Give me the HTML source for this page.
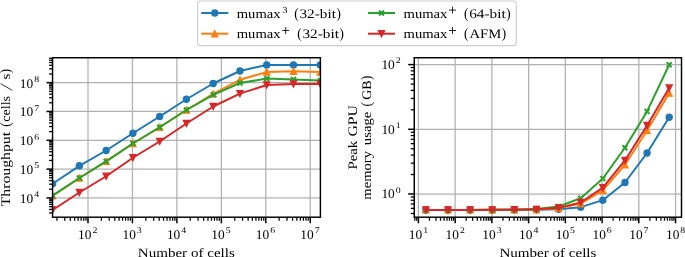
<!DOCTYPE html>
<html><head><meta charset="utf-8"><title>chart</title>
<style>
html,body{margin:0;padding:0;background:#fff;}
body{width:685px;height:257px;overflow:hidden;font-family:"Liberation Serif",serif;}
svg{display:block;will-change:transform;}
</style></head><body>
<svg width="685" height="257" viewBox="0 0 685 257">
<rect width="685" height="257" fill="#fff"/>
<defs>
<clipPath id="cl"><rect x="52.55" y="57.75" width="267.85" height="159.45"/></clipPath>
<clipPath id="cr"><rect x="414.25" y="57.75" width="267.25" height="159.45"/></clipPath>
</defs>
<line x1="88.00" y1="57.75" x2="88.00" y2="217.2" stroke="#b0b0b0" stroke-width="1.25"/><line x1="132.45" y1="57.75" x2="132.45" y2="217.2" stroke="#b0b0b0" stroke-width="1.25"/><line x1="176.90" y1="57.75" x2="176.90" y2="217.2" stroke="#b0b0b0" stroke-width="1.25"/><line x1="221.35" y1="57.75" x2="221.35" y2="217.2" stroke="#b0b0b0" stroke-width="1.25"/><line x1="265.80" y1="57.75" x2="265.80" y2="217.2" stroke="#b0b0b0" stroke-width="1.25"/><line x1="310.25" y1="57.75" x2="310.25" y2="217.2" stroke="#b0b0b0" stroke-width="1.25"/><line x1="52.55" y1="197.93" x2="320.4" y2="197.93" stroke="#b0b0b0" stroke-width="1.25"/><line x1="52.55" y1="169.11" x2="320.4" y2="169.11" stroke="#b0b0b0" stroke-width="1.25"/><line x1="52.55" y1="140.29" x2="320.4" y2="140.29" stroke="#b0b0b0" stroke-width="1.25"/><line x1="52.55" y1="111.47" x2="320.4" y2="111.47" stroke="#b0b0b0" stroke-width="1.25"/><line x1="52.55" y1="82.65" x2="320.4" y2="82.65" stroke="#b0b0b0" stroke-width="1.25"/>
<g clip-path="url(#cl)">
<polyline points="52.62,183.75 79.38,165.80 106.15,150.50 132.91,133.25 159.67,116.50 186.43,99.25 213.19,83.50 239.95,71.00 266.72,64.90 293.48,64.90 320.24,64.90" fill="none" stroke="#1f77b4" stroke-width="2.0" stroke-linejoin="round" stroke-linecap="butt"/><circle cx="52.62" cy="183.75" r="3.05" fill="#1f77b4" stroke="#1f77b4" stroke-width="1.3"/><circle cx="79.38" cy="165.80" r="3.05" fill="#1f77b4" stroke="#1f77b4" stroke-width="1.3"/><circle cx="106.15" cy="150.50" r="3.05" fill="#1f77b4" stroke="#1f77b4" stroke-width="1.3"/><circle cx="132.91" cy="133.25" r="3.05" fill="#1f77b4" stroke="#1f77b4" stroke-width="1.3"/><circle cx="159.67" cy="116.50" r="3.05" fill="#1f77b4" stroke="#1f77b4" stroke-width="1.3"/><circle cx="186.43" cy="99.25" r="3.05" fill="#1f77b4" stroke="#1f77b4" stroke-width="1.3"/><circle cx="213.19" cy="83.50" r="3.05" fill="#1f77b4" stroke="#1f77b4" stroke-width="1.3"/><circle cx="239.95" cy="71.00" r="3.05" fill="#1f77b4" stroke="#1f77b4" stroke-width="1.3"/><circle cx="266.72" cy="64.90" r="3.05" fill="#1f77b4" stroke="#1f77b4" stroke-width="1.3"/><circle cx="293.48" cy="64.90" r="3.05" fill="#1f77b4" stroke="#1f77b4" stroke-width="1.3"/><circle cx="320.24" cy="64.90" r="3.05" fill="#1f77b4" stroke="#1f77b4" stroke-width="1.3"/>
<polyline points="52.62,195.70 79.38,178.00 106.15,161.40 132.91,143.50 159.67,127.25 186.43,110.00 213.19,93.90 239.95,79.80 266.72,72.00 293.48,71.30 320.24,72.00" fill="none" stroke="#ff7f0e" stroke-width="2.0" stroke-linejoin="round" stroke-linecap="butt"/><path d="M52.62 192.65L49.57 198.75L55.67 198.75Z" fill="#ff7f0e" stroke="#ff7f0e" stroke-width="1.3" stroke-linejoin="miter"/><path d="M79.38 174.95L76.33 181.05L82.43 181.05Z" fill="#ff7f0e" stroke="#ff7f0e" stroke-width="1.3" stroke-linejoin="miter"/><path d="M106.15 158.35L103.10 164.45L109.20 164.45Z" fill="#ff7f0e" stroke="#ff7f0e" stroke-width="1.3" stroke-linejoin="miter"/><path d="M132.91 140.45L129.86 146.55L135.96 146.55Z" fill="#ff7f0e" stroke="#ff7f0e" stroke-width="1.3" stroke-linejoin="miter"/><path d="M159.67 124.20L156.62 130.30L162.72 130.30Z" fill="#ff7f0e" stroke="#ff7f0e" stroke-width="1.3" stroke-linejoin="miter"/><path d="M186.43 106.95L183.38 113.05L189.48 113.05Z" fill="#ff7f0e" stroke="#ff7f0e" stroke-width="1.3" stroke-linejoin="miter"/><path d="M213.19 90.85L210.14 96.95L216.24 96.95Z" fill="#ff7f0e" stroke="#ff7f0e" stroke-width="1.3" stroke-linejoin="miter"/><path d="M239.95 76.75L236.90 82.85L243.00 82.85Z" fill="#ff7f0e" stroke="#ff7f0e" stroke-width="1.3" stroke-linejoin="miter"/><path d="M266.72 68.95L263.67 75.05L269.77 75.05Z" fill="#ff7f0e" stroke="#ff7f0e" stroke-width="1.3" stroke-linejoin="miter"/><path d="M293.48 68.25L290.43 74.35L296.53 74.35Z" fill="#ff7f0e" stroke="#ff7f0e" stroke-width="1.3" stroke-linejoin="miter"/><path d="M320.24 68.95L317.19 75.05L323.29 75.05Z" fill="#ff7f0e" stroke="#ff7f0e" stroke-width="1.3" stroke-linejoin="miter"/>
<polyline points="52.62,195.70 79.38,178.00 106.15,161.40 132.91,143.50 159.67,127.25 186.43,110.00 213.19,94.80 239.95,83.00 266.72,78.60 293.48,79.50 320.24,80.60" fill="none" stroke="#2ca02c" stroke-width="2.0" stroke-linejoin="round" stroke-linecap="butt"/><path d="M50.17 193.25L55.07 198.15M50.17 198.15L55.07 193.25" fill="none" stroke="#2ca02c" stroke-width="2.0" stroke-linecap="butt"/><path d="M76.93 175.55L81.83 180.45M76.93 180.45L81.83 175.55" fill="none" stroke="#2ca02c" stroke-width="2.0" stroke-linecap="butt"/><path d="M103.70 158.95L108.60 163.85M103.70 163.85L108.60 158.95" fill="none" stroke="#2ca02c" stroke-width="2.0" stroke-linecap="butt"/><path d="M130.46 141.05L135.36 145.95M130.46 145.95L135.36 141.05" fill="none" stroke="#2ca02c" stroke-width="2.0" stroke-linecap="butt"/><path d="M157.22 124.80L162.12 129.70M157.22 129.70L162.12 124.80" fill="none" stroke="#2ca02c" stroke-width="2.0" stroke-linecap="butt"/><path d="M183.98 107.55L188.88 112.45M183.98 112.45L188.88 107.55" fill="none" stroke="#2ca02c" stroke-width="2.0" stroke-linecap="butt"/><path d="M210.74 92.35L215.64 97.25M210.74 97.25L215.64 92.35" fill="none" stroke="#2ca02c" stroke-width="2.0" stroke-linecap="butt"/><path d="M237.50 80.55L242.40 85.45M237.50 85.45L242.40 80.55" fill="none" stroke="#2ca02c" stroke-width="2.0" stroke-linecap="butt"/><path d="M264.27 76.15L269.17 81.05M264.27 81.05L269.17 76.15" fill="none" stroke="#2ca02c" stroke-width="2.0" stroke-linecap="butt"/><path d="M291.03 77.05L295.93 81.95M291.03 81.95L295.93 77.05" fill="none" stroke="#2ca02c" stroke-width="2.0" stroke-linecap="butt"/><path d="M317.79 78.15L322.69 83.05M317.79 83.05L322.69 78.15" fill="none" stroke="#2ca02c" stroke-width="2.0" stroke-linecap="butt"/>
<polyline points="52.62,210.00 79.38,192.50 106.15,176.25 132.91,157.75 159.67,141.50 186.43,123.50 213.19,106.50 239.95,93.60 266.72,85.00 293.48,84.00 320.24,84.00" fill="none" stroke="#d62728" stroke-width="2.0" stroke-linejoin="round" stroke-linecap="butt"/><path d="M52.62 213.05L49.57 206.95L55.67 206.95Z" fill="#d62728" stroke="#d62728" stroke-width="1.3" stroke-linejoin="miter"/><path d="M79.38 195.55L76.33 189.45L82.43 189.45Z" fill="#d62728" stroke="#d62728" stroke-width="1.3" stroke-linejoin="miter"/><path d="M106.15 179.30L103.10 173.20L109.20 173.20Z" fill="#d62728" stroke="#d62728" stroke-width="1.3" stroke-linejoin="miter"/><path d="M132.91 160.80L129.86 154.70L135.96 154.70Z" fill="#d62728" stroke="#d62728" stroke-width="1.3" stroke-linejoin="miter"/><path d="M159.67 144.55L156.62 138.45L162.72 138.45Z" fill="#d62728" stroke="#d62728" stroke-width="1.3" stroke-linejoin="miter"/><path d="M186.43 126.55L183.38 120.45L189.48 120.45Z" fill="#d62728" stroke="#d62728" stroke-width="1.3" stroke-linejoin="miter"/><path d="M213.19 109.55L210.14 103.45L216.24 103.45Z" fill="#d62728" stroke="#d62728" stroke-width="1.3" stroke-linejoin="miter"/><path d="M239.95 96.65L236.90 90.55L243.00 90.55Z" fill="#d62728" stroke="#d62728" stroke-width="1.3" stroke-linejoin="miter"/><path d="M266.72 88.05L263.67 81.95L269.77 81.95Z" fill="#d62728" stroke="#d62728" stroke-width="1.3" stroke-linejoin="miter"/><path d="M293.48 87.05L290.43 80.95L296.53 80.95Z" fill="#d62728" stroke="#d62728" stroke-width="1.3" stroke-linejoin="miter"/><path d="M320.24 87.05L317.19 80.95L323.29 80.95Z" fill="#d62728" stroke="#d62728" stroke-width="1.3" stroke-linejoin="miter"/>
</g>
<line x1="56.93" y1="217.2" x2="56.93" y2="220.70" stroke="#000" stroke-width="1.25"/><line x1="64.76" y1="217.2" x2="64.76" y2="220.70" stroke="#000" stroke-width="1.25"/><line x1="70.31" y1="217.2" x2="70.31" y2="220.70" stroke="#000" stroke-width="1.25"/><line x1="74.62" y1="217.2" x2="74.62" y2="220.70" stroke="#000" stroke-width="1.25"/><line x1="78.14" y1="217.2" x2="78.14" y2="220.70" stroke="#000" stroke-width="1.25"/><line x1="81.11" y1="217.2" x2="81.11" y2="220.70" stroke="#000" stroke-width="1.25"/><line x1="83.69" y1="217.2" x2="83.69" y2="220.70" stroke="#000" stroke-width="1.25"/><line x1="85.97" y1="217.2" x2="85.97" y2="220.70" stroke="#000" stroke-width="1.25"/><line x1="88.00" y1="217.2" x2="88.00" y2="223.30" stroke="#000" stroke-width="1.5"/><line x1="101.38" y1="217.2" x2="101.38" y2="220.70" stroke="#000" stroke-width="1.25"/><line x1="109.21" y1="217.2" x2="109.21" y2="220.70" stroke="#000" stroke-width="1.25"/><line x1="114.76" y1="217.2" x2="114.76" y2="220.70" stroke="#000" stroke-width="1.25"/><line x1="119.07" y1="217.2" x2="119.07" y2="220.70" stroke="#000" stroke-width="1.25"/><line x1="122.59" y1="217.2" x2="122.59" y2="220.70" stroke="#000" stroke-width="1.25"/><line x1="125.56" y1="217.2" x2="125.56" y2="220.70" stroke="#000" stroke-width="1.25"/><line x1="128.14" y1="217.2" x2="128.14" y2="220.70" stroke="#000" stroke-width="1.25"/><line x1="130.42" y1="217.2" x2="130.42" y2="220.70" stroke="#000" stroke-width="1.25"/><line x1="132.45" y1="217.2" x2="132.45" y2="223.30" stroke="#000" stroke-width="1.5"/><line x1="145.83" y1="217.2" x2="145.83" y2="220.70" stroke="#000" stroke-width="1.25"/><line x1="153.66" y1="217.2" x2="153.66" y2="220.70" stroke="#000" stroke-width="1.25"/><line x1="159.21" y1="217.2" x2="159.21" y2="220.70" stroke="#000" stroke-width="1.25"/><line x1="163.52" y1="217.2" x2="163.52" y2="220.70" stroke="#000" stroke-width="1.25"/><line x1="167.04" y1="217.2" x2="167.04" y2="220.70" stroke="#000" stroke-width="1.25"/><line x1="170.01" y1="217.2" x2="170.01" y2="220.70" stroke="#000" stroke-width="1.25"/><line x1="172.59" y1="217.2" x2="172.59" y2="220.70" stroke="#000" stroke-width="1.25"/><line x1="174.87" y1="217.2" x2="174.87" y2="220.70" stroke="#000" stroke-width="1.25"/><line x1="176.90" y1="217.2" x2="176.90" y2="223.30" stroke="#000" stroke-width="1.5"/><line x1="190.28" y1="217.2" x2="190.28" y2="220.70" stroke="#000" stroke-width="1.25"/><line x1="198.11" y1="217.2" x2="198.11" y2="220.70" stroke="#000" stroke-width="1.25"/><line x1="203.66" y1="217.2" x2="203.66" y2="220.70" stroke="#000" stroke-width="1.25"/><line x1="207.97" y1="217.2" x2="207.97" y2="220.70" stroke="#000" stroke-width="1.25"/><line x1="211.49" y1="217.2" x2="211.49" y2="220.70" stroke="#000" stroke-width="1.25"/><line x1="214.46" y1="217.2" x2="214.46" y2="220.70" stroke="#000" stroke-width="1.25"/><line x1="217.04" y1="217.2" x2="217.04" y2="220.70" stroke="#000" stroke-width="1.25"/><line x1="219.32" y1="217.2" x2="219.32" y2="220.70" stroke="#000" stroke-width="1.25"/><line x1="221.35" y1="217.2" x2="221.35" y2="223.30" stroke="#000" stroke-width="1.5"/><line x1="234.73" y1="217.2" x2="234.73" y2="220.70" stroke="#000" stroke-width="1.25"/><line x1="242.56" y1="217.2" x2="242.56" y2="220.70" stroke="#000" stroke-width="1.25"/><line x1="248.11" y1="217.2" x2="248.11" y2="220.70" stroke="#000" stroke-width="1.25"/><line x1="252.42" y1="217.2" x2="252.42" y2="220.70" stroke="#000" stroke-width="1.25"/><line x1="255.94" y1="217.2" x2="255.94" y2="220.70" stroke="#000" stroke-width="1.25"/><line x1="258.91" y1="217.2" x2="258.91" y2="220.70" stroke="#000" stroke-width="1.25"/><line x1="261.49" y1="217.2" x2="261.49" y2="220.70" stroke="#000" stroke-width="1.25"/><line x1="263.77" y1="217.2" x2="263.77" y2="220.70" stroke="#000" stroke-width="1.25"/><line x1="265.80" y1="217.2" x2="265.80" y2="223.30" stroke="#000" stroke-width="1.5"/><line x1="279.18" y1="217.2" x2="279.18" y2="220.70" stroke="#000" stroke-width="1.25"/><line x1="287.01" y1="217.2" x2="287.01" y2="220.70" stroke="#000" stroke-width="1.25"/><line x1="292.56" y1="217.2" x2="292.56" y2="220.70" stroke="#000" stroke-width="1.25"/><line x1="296.87" y1="217.2" x2="296.87" y2="220.70" stroke="#000" stroke-width="1.25"/><line x1="300.39" y1="217.2" x2="300.39" y2="220.70" stroke="#000" stroke-width="1.25"/><line x1="303.36" y1="217.2" x2="303.36" y2="220.70" stroke="#000" stroke-width="1.25"/><line x1="305.94" y1="217.2" x2="305.94" y2="220.70" stroke="#000" stroke-width="1.25"/><line x1="308.22" y1="217.2" x2="308.22" y2="220.70" stroke="#000" stroke-width="1.25"/><line x1="310.25" y1="217.2" x2="310.25" y2="223.30" stroke="#000" stroke-width="1.5"/><line x1="52.55" y1="213.00" x2="49.05" y2="213.00" stroke="#000" stroke-width="1.25"/><line x1="52.55" y1="209.40" x2="49.05" y2="209.40" stroke="#000" stroke-width="1.25"/><line x1="52.55" y1="206.61" x2="49.05" y2="206.61" stroke="#000" stroke-width="1.25"/><line x1="52.55" y1="204.32" x2="49.05" y2="204.32" stroke="#000" stroke-width="1.25"/><line x1="52.55" y1="202.39" x2="49.05" y2="202.39" stroke="#000" stroke-width="1.25"/><line x1="52.55" y1="200.72" x2="49.05" y2="200.72" stroke="#000" stroke-width="1.25"/><line x1="52.55" y1="199.25" x2="49.05" y2="199.25" stroke="#000" stroke-width="1.25"/><line x1="52.55" y1="197.93" x2="46.45" y2="197.93" stroke="#000" stroke-width="1.5"/><line x1="52.55" y1="189.25" x2="49.05" y2="189.25" stroke="#000" stroke-width="1.25"/><line x1="52.55" y1="184.18" x2="49.05" y2="184.18" stroke="#000" stroke-width="1.25"/><line x1="52.55" y1="180.58" x2="49.05" y2="180.58" stroke="#000" stroke-width="1.25"/><line x1="52.55" y1="177.79" x2="49.05" y2="177.79" stroke="#000" stroke-width="1.25"/><line x1="52.55" y1="175.50" x2="49.05" y2="175.50" stroke="#000" stroke-width="1.25"/><line x1="52.55" y1="173.57" x2="49.05" y2="173.57" stroke="#000" stroke-width="1.25"/><line x1="52.55" y1="171.90" x2="49.05" y2="171.90" stroke="#000" stroke-width="1.25"/><line x1="52.55" y1="170.43" x2="49.05" y2="170.43" stroke="#000" stroke-width="1.25"/><line x1="52.55" y1="169.11" x2="46.45" y2="169.11" stroke="#000" stroke-width="1.5"/><line x1="52.55" y1="160.43" x2="49.05" y2="160.43" stroke="#000" stroke-width="1.25"/><line x1="52.55" y1="155.36" x2="49.05" y2="155.36" stroke="#000" stroke-width="1.25"/><line x1="52.55" y1="151.76" x2="49.05" y2="151.76" stroke="#000" stroke-width="1.25"/><line x1="52.55" y1="148.97" x2="49.05" y2="148.97" stroke="#000" stroke-width="1.25"/><line x1="52.55" y1="146.68" x2="49.05" y2="146.68" stroke="#000" stroke-width="1.25"/><line x1="52.55" y1="144.75" x2="49.05" y2="144.75" stroke="#000" stroke-width="1.25"/><line x1="52.55" y1="143.08" x2="49.05" y2="143.08" stroke="#000" stroke-width="1.25"/><line x1="52.55" y1="141.61" x2="49.05" y2="141.61" stroke="#000" stroke-width="1.25"/><line x1="52.55" y1="140.29" x2="46.45" y2="140.29" stroke="#000" stroke-width="1.5"/><line x1="52.55" y1="131.61" x2="49.05" y2="131.61" stroke="#000" stroke-width="1.25"/><line x1="52.55" y1="126.54" x2="49.05" y2="126.54" stroke="#000" stroke-width="1.25"/><line x1="52.55" y1="122.94" x2="49.05" y2="122.94" stroke="#000" stroke-width="1.25"/><line x1="52.55" y1="120.15" x2="49.05" y2="120.15" stroke="#000" stroke-width="1.25"/><line x1="52.55" y1="117.86" x2="49.05" y2="117.86" stroke="#000" stroke-width="1.25"/><line x1="52.55" y1="115.93" x2="49.05" y2="115.93" stroke="#000" stroke-width="1.25"/><line x1="52.55" y1="114.26" x2="49.05" y2="114.26" stroke="#000" stroke-width="1.25"/><line x1="52.55" y1="112.79" x2="49.05" y2="112.79" stroke="#000" stroke-width="1.25"/><line x1="52.55" y1="111.47" x2="46.45" y2="111.47" stroke="#000" stroke-width="1.5"/><line x1="52.55" y1="102.79" x2="49.05" y2="102.79" stroke="#000" stroke-width="1.25"/><line x1="52.55" y1="97.72" x2="49.05" y2="97.72" stroke="#000" stroke-width="1.25"/><line x1="52.55" y1="94.12" x2="49.05" y2="94.12" stroke="#000" stroke-width="1.25"/><line x1="52.55" y1="91.33" x2="49.05" y2="91.33" stroke="#000" stroke-width="1.25"/><line x1="52.55" y1="89.04" x2="49.05" y2="89.04" stroke="#000" stroke-width="1.25"/><line x1="52.55" y1="87.11" x2="49.05" y2="87.11" stroke="#000" stroke-width="1.25"/><line x1="52.55" y1="85.44" x2="49.05" y2="85.44" stroke="#000" stroke-width="1.25"/><line x1="52.55" y1="83.97" x2="49.05" y2="83.97" stroke="#000" stroke-width="1.25"/><line x1="52.55" y1="82.65" x2="46.45" y2="82.65" stroke="#000" stroke-width="1.5"/><line x1="52.55" y1="73.97" x2="49.05" y2="73.97" stroke="#000" stroke-width="1.25"/><line x1="52.55" y1="68.90" x2="49.05" y2="68.90" stroke="#000" stroke-width="1.25"/><line x1="52.55" y1="65.30" x2="49.05" y2="65.30" stroke="#000" stroke-width="1.25"/><line x1="52.55" y1="62.51" x2="49.05" y2="62.51" stroke="#000" stroke-width="1.25"/><line x1="52.55" y1="60.22" x2="49.05" y2="60.22" stroke="#000" stroke-width="1.25"/><line x1="52.55" y1="58.29" x2="49.05" y2="58.29" stroke="#000" stroke-width="1.25"/>
<rect x="52.55" y="57.75" width="267.85" height="159.45" fill="none" stroke="#000" stroke-width="1.45"/>
<text x="78.00" y="238.80" font-size="13.3" text-anchor="start" font-family="Liberation Serif, serif" text-rendering="geometricPrecision" textLength="13.40" lengthAdjust="spacingAndGlyphs" >10</text><text x="92.40" y="233.20" font-size="8.7" text-anchor="start" font-family="Liberation Serif, serif" text-rendering="geometricPrecision" textLength="4.90" lengthAdjust="spacingAndGlyphs" >2</text>
<text x="122.45" y="238.80" font-size="13.3" text-anchor="start" font-family="Liberation Serif, serif" text-rendering="geometricPrecision" textLength="13.40" lengthAdjust="spacingAndGlyphs" >10</text><text x="136.85" y="233.20" font-size="8.7" text-anchor="start" font-family="Liberation Serif, serif" text-rendering="geometricPrecision" textLength="4.90" lengthAdjust="spacingAndGlyphs" >3</text>
<text x="166.90" y="238.80" font-size="13.3" text-anchor="start" font-family="Liberation Serif, serif" text-rendering="geometricPrecision" textLength="13.40" lengthAdjust="spacingAndGlyphs" >10</text><text x="181.30" y="233.20" font-size="8.7" text-anchor="start" font-family="Liberation Serif, serif" text-rendering="geometricPrecision" textLength="4.90" lengthAdjust="spacingAndGlyphs" >4</text>
<text x="211.35" y="238.80" font-size="13.3" text-anchor="start" font-family="Liberation Serif, serif" text-rendering="geometricPrecision" textLength="13.40" lengthAdjust="spacingAndGlyphs" >10</text><text x="225.75" y="233.20" font-size="8.7" text-anchor="start" font-family="Liberation Serif, serif" text-rendering="geometricPrecision" textLength="4.90" lengthAdjust="spacingAndGlyphs" >5</text>
<text x="255.80" y="238.80" font-size="13.3" text-anchor="start" font-family="Liberation Serif, serif" text-rendering="geometricPrecision" textLength="13.40" lengthAdjust="spacingAndGlyphs" >10</text><text x="270.20" y="233.20" font-size="8.7" text-anchor="start" font-family="Liberation Serif, serif" text-rendering="geometricPrecision" textLength="4.90" lengthAdjust="spacingAndGlyphs" >6</text>
<text x="300.25" y="238.80" font-size="13.3" text-anchor="start" font-family="Liberation Serif, serif" text-rendering="geometricPrecision" textLength="13.40" lengthAdjust="spacingAndGlyphs" >10</text><text x="314.65" y="233.20" font-size="8.7" text-anchor="start" font-family="Liberation Serif, serif" text-rendering="geometricPrecision" textLength="4.90" lengthAdjust="spacingAndGlyphs" >7</text>
<text x="19.80" y="202.83" font-size="13.3" text-anchor="start" font-family="Liberation Serif, serif" text-rendering="geometricPrecision" textLength="13.40" lengthAdjust="spacingAndGlyphs" >10</text><text x="34.20" y="197.23" font-size="8.7" text-anchor="start" font-family="Liberation Serif, serif" text-rendering="geometricPrecision" textLength="4.90" lengthAdjust="spacingAndGlyphs" >4</text>
<text x="19.80" y="174.01" font-size="13.3" text-anchor="start" font-family="Liberation Serif, serif" text-rendering="geometricPrecision" textLength="13.40" lengthAdjust="spacingAndGlyphs" >10</text><text x="34.20" y="168.41" font-size="8.7" text-anchor="start" font-family="Liberation Serif, serif" text-rendering="geometricPrecision" textLength="4.90" lengthAdjust="spacingAndGlyphs" >5</text>
<text x="19.80" y="145.19" font-size="13.3" text-anchor="start" font-family="Liberation Serif, serif" text-rendering="geometricPrecision" textLength="13.40" lengthAdjust="spacingAndGlyphs" >10</text><text x="34.20" y="139.59" font-size="8.7" text-anchor="start" font-family="Liberation Serif, serif" text-rendering="geometricPrecision" textLength="4.90" lengthAdjust="spacingAndGlyphs" >6</text>
<text x="19.80" y="116.37" font-size="13.3" text-anchor="start" font-family="Liberation Serif, serif" text-rendering="geometricPrecision" textLength="13.40" lengthAdjust="spacingAndGlyphs" >10</text><text x="34.20" y="110.77" font-size="8.7" text-anchor="start" font-family="Liberation Serif, serif" text-rendering="geometricPrecision" textLength="4.90" lengthAdjust="spacingAndGlyphs" >7</text>
<text x="19.80" y="87.55" font-size="13.3" text-anchor="start" font-family="Liberation Serif, serif" text-rendering="geometricPrecision" textLength="13.40" lengthAdjust="spacingAndGlyphs" >10</text><text x="34.20" y="81.95" font-size="8.7" text-anchor="start" font-family="Liberation Serif, serif" text-rendering="geometricPrecision" textLength="4.90" lengthAdjust="spacingAndGlyphs" >8</text>
<text x="137.80" y="256.50" font-size="12.8" text-anchor="start" font-family="Liberation Serif, serif" text-rendering="geometricPrecision" textLength="97.00" lengthAdjust="spacingAndGlyphs" >Number of cells</text>
<g transform="translate(9.80 206.30) rotate(-90)"><text x="0.00" y="0.00" font-size="13.0" text-anchor="start" font-family="Liberation Serif, serif" text-rendering="geometricPrecision" textLength="74.40" lengthAdjust="spacingAndGlyphs" >Throughput</text></g>
<g transform="translate(9.80 126.70) rotate(-90)"><text x="0.00" y="0.00" font-size="14.4" text-anchor="start" font-family="Liberation Serif, serif" text-rendering="geometricPrecision" textLength="4.40" lengthAdjust="spacingAndGlyphs" >(</text></g>
<g transform="translate(9.80 121.70) rotate(-90)"><text x="0.00" y="0.00" font-size="13.0" text-anchor="start" font-family="Liberation Serif, serif" text-rendering="geometricPrecision" textLength="25.70" lengthAdjust="spacingAndGlyphs" >cells</text></g>
<line x1="12.3" y1="90.4" x2="0.5" y2="83.6" stroke="#000" stroke-width="0.8"/>
<g transform="translate(9.80 79.40) rotate(-90)"><text x="0.00" y="0.00" font-size="13.0" text-anchor="start" font-family="Liberation Serif, serif" text-rendering="geometricPrecision" textLength="5.90" lengthAdjust="spacingAndGlyphs" >s</text></g>
<g transform="translate(9.80 73.20) rotate(-90)"><text x="0.00" y="0.00" font-size="14.4" text-anchor="start" font-family="Liberation Serif, serif" text-rendering="geometricPrecision" textLength="4.40" lengthAdjust="spacingAndGlyphs" >)</text></g>
<line x1="418.40" y1="57.75" x2="418.40" y2="217.2" stroke="#b0b0b0" stroke-width="1.25"/><line x1="455.13" y1="57.75" x2="455.13" y2="217.2" stroke="#b0b0b0" stroke-width="1.25"/><line x1="491.87" y1="57.75" x2="491.87" y2="217.2" stroke="#b0b0b0" stroke-width="1.25"/><line x1="528.61" y1="57.75" x2="528.61" y2="217.2" stroke="#b0b0b0" stroke-width="1.25"/><line x1="565.34" y1="57.75" x2="565.34" y2="217.2" stroke="#b0b0b0" stroke-width="1.25"/><line x1="602.08" y1="57.75" x2="602.08" y2="217.2" stroke="#b0b0b0" stroke-width="1.25"/><line x1="638.81" y1="57.75" x2="638.81" y2="217.2" stroke="#b0b0b0" stroke-width="1.25"/><line x1="675.54" y1="57.75" x2="675.54" y2="217.2" stroke="#b0b0b0" stroke-width="1.25"/><line x1="414.25" y1="194.00" x2="681.5" y2="194.00" stroke="#b0b0b0" stroke-width="1.25"/><line x1="414.25" y1="129.30" x2="681.5" y2="129.30" stroke="#b0b0b0" stroke-width="1.25"/><line x1="414.25" y1="64.60" x2="681.5" y2="64.60" stroke="#b0b0b0" stroke-width="1.25"/>
<g clip-path="url(#cr)">
<polyline points="425.90,209.90 448.02,209.90 470.13,209.90 492.25,209.89 514.37,209.86 536.48,209.72 558.60,209.18 580.72,207.13 602.83,200.16 624.95,182.48 647.07,153.00 669.18,117.18" fill="none" stroke="#1f77b4" stroke-width="2.0" stroke-linejoin="round" stroke-linecap="butt"/><circle cx="425.90" cy="209.90" r="3.05" fill="#1f77b4" stroke="#1f77b4" stroke-width="1.3"/><circle cx="448.02" cy="209.90" r="3.05" fill="#1f77b4" stroke="#1f77b4" stroke-width="1.3"/><circle cx="470.13" cy="209.90" r="3.05" fill="#1f77b4" stroke="#1f77b4" stroke-width="1.3"/><circle cx="492.25" cy="209.89" r="3.05" fill="#1f77b4" stroke="#1f77b4" stroke-width="1.3"/><circle cx="514.37" cy="209.86" r="3.05" fill="#1f77b4" stroke="#1f77b4" stroke-width="1.3"/><circle cx="536.48" cy="209.72" r="3.05" fill="#1f77b4" stroke="#1f77b4" stroke-width="1.3"/><circle cx="558.60" cy="209.18" r="3.05" fill="#1f77b4" stroke="#1f77b4" stroke-width="1.3"/><circle cx="580.72" cy="207.13" r="3.05" fill="#1f77b4" stroke="#1f77b4" stroke-width="1.3"/><circle cx="602.83" cy="200.16" r="3.05" fill="#1f77b4" stroke="#1f77b4" stroke-width="1.3"/><circle cx="624.95" cy="182.48" r="3.05" fill="#1f77b4" stroke="#1f77b4" stroke-width="1.3"/><circle cx="647.07" cy="153.00" r="3.05" fill="#1f77b4" stroke="#1f77b4" stroke-width="1.3"/><circle cx="669.18" cy="117.18" r="3.05" fill="#1f77b4" stroke="#1f77b4" stroke-width="1.3"/>
<polyline points="425.90,209.90 448.02,209.90 470.13,209.90 492.25,209.87 514.37,209.79 536.48,209.46 558.60,208.19 580.72,203.61 602.83,190.41 624.95,164.74 647.07,130.55 669.18,93.12" fill="none" stroke="#ff7f0e" stroke-width="2.0" stroke-linejoin="round" stroke-linecap="butt"/><path d="M425.90 206.85L422.85 212.95L428.95 212.95Z" fill="#ff7f0e" stroke="#ff7f0e" stroke-width="1.3" stroke-linejoin="miter"/><path d="M448.02 206.85L444.97 212.95L451.07 212.95Z" fill="#ff7f0e" stroke="#ff7f0e" stroke-width="1.3" stroke-linejoin="miter"/><path d="M470.13 206.85L467.08 212.95L473.18 212.95Z" fill="#ff7f0e" stroke="#ff7f0e" stroke-width="1.3" stroke-linejoin="miter"/><path d="M492.25 206.82L489.20 212.92L495.30 212.92Z" fill="#ff7f0e" stroke="#ff7f0e" stroke-width="1.3" stroke-linejoin="miter"/><path d="M514.37 206.74L511.32 212.84L517.42 212.84Z" fill="#ff7f0e" stroke="#ff7f0e" stroke-width="1.3" stroke-linejoin="miter"/><path d="M536.48 206.41L533.43 212.51L539.53 212.51Z" fill="#ff7f0e" stroke="#ff7f0e" stroke-width="1.3" stroke-linejoin="miter"/><path d="M558.60 205.14L555.55 211.24L561.65 211.24Z" fill="#ff7f0e" stroke="#ff7f0e" stroke-width="1.3" stroke-linejoin="miter"/><path d="M580.72 200.56L577.67 206.66L583.77 206.66Z" fill="#ff7f0e" stroke="#ff7f0e" stroke-width="1.3" stroke-linejoin="miter"/><path d="M602.83 187.36L599.78 193.46L605.88 193.46Z" fill="#ff7f0e" stroke="#ff7f0e" stroke-width="1.3" stroke-linejoin="miter"/><path d="M624.95 161.69L621.90 167.79L628.00 167.79Z" fill="#ff7f0e" stroke="#ff7f0e" stroke-width="1.3" stroke-linejoin="miter"/><path d="M647.07 127.50L644.02 133.60L650.12 133.60Z" fill="#ff7f0e" stroke="#ff7f0e" stroke-width="1.3" stroke-linejoin="miter"/><path d="M669.18 90.07L666.13 96.17L672.23 96.17Z" fill="#ff7f0e" stroke="#ff7f0e" stroke-width="1.3" stroke-linejoin="miter"/>
<polyline points="425.90,209.90 448.02,209.90 470.13,209.89 492.25,209.85 514.37,209.68 536.48,209.01 558.60,206.51 580.72,198.26 602.83,178.60 624.95,147.74 647.07,111.41 669.18,64.75" fill="none" stroke="#2ca02c" stroke-width="2.0" stroke-linejoin="round" stroke-linecap="butt"/><path d="M423.45 207.45L428.35 212.35M423.45 212.35L428.35 207.45" fill="none" stroke="#2ca02c" stroke-width="2.0" stroke-linecap="butt"/><path d="M445.57 207.45L450.47 212.35M445.57 212.35L450.47 207.45" fill="none" stroke="#2ca02c" stroke-width="2.0" stroke-linecap="butt"/><path d="M467.68 207.44L472.58 212.34M467.68 212.34L472.58 207.44" fill="none" stroke="#2ca02c" stroke-width="2.0" stroke-linecap="butt"/><path d="M489.80 207.40L494.70 212.30M489.80 212.30L494.70 207.40" fill="none" stroke="#2ca02c" stroke-width="2.0" stroke-linecap="butt"/><path d="M511.92 207.23L516.82 212.13M511.92 212.13L516.82 207.23" fill="none" stroke="#2ca02c" stroke-width="2.0" stroke-linecap="butt"/><path d="M534.03 206.56L538.93 211.46M534.03 211.46L538.93 206.56" fill="none" stroke="#2ca02c" stroke-width="2.0" stroke-linecap="butt"/><path d="M556.15 204.06L561.05 208.96M556.15 208.96L561.05 204.06" fill="none" stroke="#2ca02c" stroke-width="2.0" stroke-linecap="butt"/><path d="M578.27 195.81L583.17 200.71M578.27 200.71L583.17 195.81" fill="none" stroke="#2ca02c" stroke-width="2.0" stroke-linecap="butt"/><path d="M600.38 176.15L605.28 181.05M600.38 181.05L605.28 176.15" fill="none" stroke="#2ca02c" stroke-width="2.0" stroke-linecap="butt"/><path d="M622.50 145.29L627.40 150.19M622.50 150.19L627.40 145.29" fill="none" stroke="#2ca02c" stroke-width="2.0" stroke-linecap="butt"/><path d="M644.62 108.96L649.52 113.86M644.62 113.86L649.52 108.96" fill="none" stroke="#2ca02c" stroke-width="2.0" stroke-linecap="butt"/><path d="M666.73 62.30L671.63 67.20M666.73 67.20L671.63 62.30" fill="none" stroke="#2ca02c" stroke-width="2.0" stroke-linecap="butt"/>
<polyline points="425.90,209.90 448.02,209.90 470.13,209.89 492.25,209.87 514.37,209.77 536.48,209.37 558.60,207.85 580.72,202.47 602.83,187.64 624.95,160.45 647.07,125.57 669.18,87.93" fill="none" stroke="#d62728" stroke-width="2.0" stroke-linejoin="round" stroke-linecap="butt"/><path d="M425.90 212.95L422.85 206.85L428.95 206.85Z" fill="#d62728" stroke="#d62728" stroke-width="1.3" stroke-linejoin="miter"/><path d="M448.02 212.95L444.97 206.85L451.07 206.85Z" fill="#d62728" stroke="#d62728" stroke-width="1.3" stroke-linejoin="miter"/><path d="M470.13 212.94L467.08 206.84L473.18 206.84Z" fill="#d62728" stroke="#d62728" stroke-width="1.3" stroke-linejoin="miter"/><path d="M492.25 212.92L489.20 206.82L495.30 206.82Z" fill="#d62728" stroke="#d62728" stroke-width="1.3" stroke-linejoin="miter"/><path d="M514.37 212.82L511.32 206.72L517.42 206.72Z" fill="#d62728" stroke="#d62728" stroke-width="1.3" stroke-linejoin="miter"/><path d="M536.48 212.42L533.43 206.32L539.53 206.32Z" fill="#d62728" stroke="#d62728" stroke-width="1.3" stroke-linejoin="miter"/><path d="M558.60 210.90L555.55 204.80L561.65 204.80Z" fill="#d62728" stroke="#d62728" stroke-width="1.3" stroke-linejoin="miter"/><path d="M580.72 205.52L577.67 199.42L583.77 199.42Z" fill="#d62728" stroke="#d62728" stroke-width="1.3" stroke-linejoin="miter"/><path d="M602.83 190.69L599.78 184.59L605.88 184.59Z" fill="#d62728" stroke="#d62728" stroke-width="1.3" stroke-linejoin="miter"/><path d="M624.95 163.50L621.90 157.40L628.00 157.40Z" fill="#d62728" stroke="#d62728" stroke-width="1.3" stroke-linejoin="miter"/><path d="M647.07 128.62L644.02 122.52L650.12 122.52Z" fill="#d62728" stroke="#d62728" stroke-width="1.3" stroke-linejoin="miter"/><path d="M669.18 90.98L666.13 84.88L672.23 84.88Z" fill="#d62728" stroke="#d62728" stroke-width="1.3" stroke-linejoin="miter"/>
</g>
<line x1="414.84" y1="217.2" x2="414.84" y2="220.70" stroke="#000" stroke-width="1.25"/><line x1="416.72" y1="217.2" x2="416.72" y2="220.70" stroke="#000" stroke-width="1.25"/><line x1="418.40" y1="217.2" x2="418.40" y2="223.30" stroke="#000" stroke-width="1.5"/><line x1="429.46" y1="217.2" x2="429.46" y2="220.70" stroke="#000" stroke-width="1.25"/><line x1="435.93" y1="217.2" x2="435.93" y2="220.70" stroke="#000" stroke-width="1.25"/><line x1="440.52" y1="217.2" x2="440.52" y2="220.70" stroke="#000" stroke-width="1.25"/><line x1="444.08" y1="217.2" x2="444.08" y2="220.70" stroke="#000" stroke-width="1.25"/><line x1="446.99" y1="217.2" x2="446.99" y2="220.70" stroke="#000" stroke-width="1.25"/><line x1="449.44" y1="217.2" x2="449.44" y2="220.70" stroke="#000" stroke-width="1.25"/><line x1="451.58" y1="217.2" x2="451.58" y2="220.70" stroke="#000" stroke-width="1.25"/><line x1="453.45" y1="217.2" x2="453.45" y2="220.70" stroke="#000" stroke-width="1.25"/><line x1="455.13" y1="217.2" x2="455.13" y2="223.30" stroke="#000" stroke-width="1.5"/><line x1="466.19" y1="217.2" x2="466.19" y2="220.70" stroke="#000" stroke-width="1.25"/><line x1="472.66" y1="217.2" x2="472.66" y2="220.70" stroke="#000" stroke-width="1.25"/><line x1="477.25" y1="217.2" x2="477.25" y2="220.70" stroke="#000" stroke-width="1.25"/><line x1="480.81" y1="217.2" x2="480.81" y2="220.70" stroke="#000" stroke-width="1.25"/><line x1="483.72" y1="217.2" x2="483.72" y2="220.70" stroke="#000" stroke-width="1.25"/><line x1="486.18" y1="217.2" x2="486.18" y2="220.70" stroke="#000" stroke-width="1.25"/><line x1="488.31" y1="217.2" x2="488.31" y2="220.70" stroke="#000" stroke-width="1.25"/><line x1="490.19" y1="217.2" x2="490.19" y2="220.70" stroke="#000" stroke-width="1.25"/><line x1="491.87" y1="217.2" x2="491.87" y2="223.30" stroke="#000" stroke-width="1.5"/><line x1="502.93" y1="217.2" x2="502.93" y2="220.70" stroke="#000" stroke-width="1.25"/><line x1="509.40" y1="217.2" x2="509.40" y2="220.70" stroke="#000" stroke-width="1.25"/><line x1="513.99" y1="217.2" x2="513.99" y2="220.70" stroke="#000" stroke-width="1.25"/><line x1="517.55" y1="217.2" x2="517.55" y2="220.70" stroke="#000" stroke-width="1.25"/><line x1="520.46" y1="217.2" x2="520.46" y2="220.70" stroke="#000" stroke-width="1.25"/><line x1="522.91" y1="217.2" x2="522.91" y2="220.70" stroke="#000" stroke-width="1.25"/><line x1="525.05" y1="217.2" x2="525.05" y2="220.70" stroke="#000" stroke-width="1.25"/><line x1="526.92" y1="217.2" x2="526.92" y2="220.70" stroke="#000" stroke-width="1.25"/><line x1="528.61" y1="217.2" x2="528.61" y2="223.30" stroke="#000" stroke-width="1.5"/><line x1="539.66" y1="217.2" x2="539.66" y2="220.70" stroke="#000" stroke-width="1.25"/><line x1="546.13" y1="217.2" x2="546.13" y2="220.70" stroke="#000" stroke-width="1.25"/><line x1="550.72" y1="217.2" x2="550.72" y2="220.70" stroke="#000" stroke-width="1.25"/><line x1="554.28" y1="217.2" x2="554.28" y2="220.70" stroke="#000" stroke-width="1.25"/><line x1="557.19" y1="217.2" x2="557.19" y2="220.70" stroke="#000" stroke-width="1.25"/><line x1="559.65" y1="217.2" x2="559.65" y2="220.70" stroke="#000" stroke-width="1.25"/><line x1="561.78" y1="217.2" x2="561.78" y2="220.70" stroke="#000" stroke-width="1.25"/><line x1="563.66" y1="217.2" x2="563.66" y2="220.70" stroke="#000" stroke-width="1.25"/><line x1="565.34" y1="217.2" x2="565.34" y2="223.30" stroke="#000" stroke-width="1.5"/><line x1="576.40" y1="217.2" x2="576.40" y2="220.70" stroke="#000" stroke-width="1.25"/><line x1="582.87" y1="217.2" x2="582.87" y2="220.70" stroke="#000" stroke-width="1.25"/><line x1="587.46" y1="217.2" x2="587.46" y2="220.70" stroke="#000" stroke-width="1.25"/><line x1="591.02" y1="217.2" x2="591.02" y2="220.70" stroke="#000" stroke-width="1.25"/><line x1="593.93" y1="217.2" x2="593.93" y2="220.70" stroke="#000" stroke-width="1.25"/><line x1="596.38" y1="217.2" x2="596.38" y2="220.70" stroke="#000" stroke-width="1.25"/><line x1="598.52" y1="217.2" x2="598.52" y2="220.70" stroke="#000" stroke-width="1.25"/><line x1="600.39" y1="217.2" x2="600.39" y2="220.70" stroke="#000" stroke-width="1.25"/><line x1="602.08" y1="217.2" x2="602.08" y2="223.30" stroke="#000" stroke-width="1.5"/><line x1="613.13" y1="217.2" x2="613.13" y2="220.70" stroke="#000" stroke-width="1.25"/><line x1="619.60" y1="217.2" x2="619.60" y2="220.70" stroke="#000" stroke-width="1.25"/><line x1="624.19" y1="217.2" x2="624.19" y2="220.70" stroke="#000" stroke-width="1.25"/><line x1="627.75" y1="217.2" x2="627.75" y2="220.70" stroke="#000" stroke-width="1.25"/><line x1="630.66" y1="217.2" x2="630.66" y2="220.70" stroke="#000" stroke-width="1.25"/><line x1="633.12" y1="217.2" x2="633.12" y2="220.70" stroke="#000" stroke-width="1.25"/><line x1="635.25" y1="217.2" x2="635.25" y2="220.70" stroke="#000" stroke-width="1.25"/><line x1="637.13" y1="217.2" x2="637.13" y2="220.70" stroke="#000" stroke-width="1.25"/><line x1="638.81" y1="217.2" x2="638.81" y2="223.30" stroke="#000" stroke-width="1.5"/><line x1="649.87" y1="217.2" x2="649.87" y2="220.70" stroke="#000" stroke-width="1.25"/><line x1="656.34" y1="217.2" x2="656.34" y2="220.70" stroke="#000" stroke-width="1.25"/><line x1="660.93" y1="217.2" x2="660.93" y2="220.70" stroke="#000" stroke-width="1.25"/><line x1="664.49" y1="217.2" x2="664.49" y2="220.70" stroke="#000" stroke-width="1.25"/><line x1="667.40" y1="217.2" x2="667.40" y2="220.70" stroke="#000" stroke-width="1.25"/><line x1="669.85" y1="217.2" x2="669.85" y2="220.70" stroke="#000" stroke-width="1.25"/><line x1="671.99" y1="217.2" x2="671.99" y2="220.70" stroke="#000" stroke-width="1.25"/><line x1="673.86" y1="217.2" x2="673.86" y2="220.70" stroke="#000" stroke-width="1.25"/><line x1="675.54" y1="217.2" x2="675.54" y2="223.30" stroke="#000" stroke-width="1.5"/><line x1="414.25" y1="213.48" x2="410.75" y2="213.48" stroke="#000" stroke-width="1.25"/><line x1="414.25" y1="208.35" x2="410.75" y2="208.35" stroke="#000" stroke-width="1.25"/><line x1="414.25" y1="204.02" x2="410.75" y2="204.02" stroke="#000" stroke-width="1.25"/><line x1="414.25" y1="200.27" x2="410.75" y2="200.27" stroke="#000" stroke-width="1.25"/><line x1="414.25" y1="196.96" x2="410.75" y2="196.96" stroke="#000" stroke-width="1.25"/><line x1="414.25" y1="194.00" x2="408.15" y2="194.00" stroke="#000" stroke-width="1.5"/><line x1="414.25" y1="174.52" x2="410.75" y2="174.52" stroke="#000" stroke-width="1.25"/><line x1="414.25" y1="163.13" x2="410.75" y2="163.13" stroke="#000" stroke-width="1.25"/><line x1="414.25" y1="155.05" x2="410.75" y2="155.05" stroke="#000" stroke-width="1.25"/><line x1="414.25" y1="148.78" x2="410.75" y2="148.78" stroke="#000" stroke-width="1.25"/><line x1="414.25" y1="143.65" x2="410.75" y2="143.65" stroke="#000" stroke-width="1.25"/><line x1="414.25" y1="139.32" x2="410.75" y2="139.32" stroke="#000" stroke-width="1.25"/><line x1="414.25" y1="135.57" x2="410.75" y2="135.57" stroke="#000" stroke-width="1.25"/><line x1="414.25" y1="132.26" x2="410.75" y2="132.26" stroke="#000" stroke-width="1.25"/><line x1="414.25" y1="129.30" x2="408.15" y2="129.30" stroke="#000" stroke-width="1.5"/><line x1="414.25" y1="109.82" x2="410.75" y2="109.82" stroke="#000" stroke-width="1.25"/><line x1="414.25" y1="98.43" x2="410.75" y2="98.43" stroke="#000" stroke-width="1.25"/><line x1="414.25" y1="90.35" x2="410.75" y2="90.35" stroke="#000" stroke-width="1.25"/><line x1="414.25" y1="84.08" x2="410.75" y2="84.08" stroke="#000" stroke-width="1.25"/><line x1="414.25" y1="78.95" x2="410.75" y2="78.95" stroke="#000" stroke-width="1.25"/><line x1="414.25" y1="74.62" x2="410.75" y2="74.62" stroke="#000" stroke-width="1.25"/><line x1="414.25" y1="70.87" x2="410.75" y2="70.87" stroke="#000" stroke-width="1.25"/><line x1="414.25" y1="67.56" x2="410.75" y2="67.56" stroke="#000" stroke-width="1.25"/><line x1="414.25" y1="64.60" x2="408.15" y2="64.60" stroke="#000" stroke-width="1.5"/>
<rect x="414.25" y="57.75" width="267.25" height="159.45" fill="none" stroke="#000" stroke-width="1.45"/>
<text x="408.80" y="238.80" font-size="13.3" text-anchor="start" font-family="Liberation Serif, serif" text-rendering="geometricPrecision" textLength="13.40" lengthAdjust="spacingAndGlyphs" >10</text><text x="423.20" y="233.20" font-size="8.7" text-anchor="start" font-family="Liberation Serif, serif" text-rendering="geometricPrecision" textLength="4.90" lengthAdjust="spacingAndGlyphs" >1</text>
<text x="445.53" y="238.80" font-size="13.3" text-anchor="start" font-family="Liberation Serif, serif" text-rendering="geometricPrecision" textLength="13.40" lengthAdjust="spacingAndGlyphs" >10</text><text x="459.93" y="233.20" font-size="8.7" text-anchor="start" font-family="Liberation Serif, serif" text-rendering="geometricPrecision" textLength="4.90" lengthAdjust="spacingAndGlyphs" >2</text>
<text x="482.27" y="238.80" font-size="13.3" text-anchor="start" font-family="Liberation Serif, serif" text-rendering="geometricPrecision" textLength="13.40" lengthAdjust="spacingAndGlyphs" >10</text><text x="496.67" y="233.20" font-size="8.7" text-anchor="start" font-family="Liberation Serif, serif" text-rendering="geometricPrecision" textLength="4.90" lengthAdjust="spacingAndGlyphs" >3</text>
<text x="519.00" y="238.80" font-size="13.3" text-anchor="start" font-family="Liberation Serif, serif" text-rendering="geometricPrecision" textLength="13.40" lengthAdjust="spacingAndGlyphs" >10</text><text x="533.40" y="233.20" font-size="8.7" text-anchor="start" font-family="Liberation Serif, serif" text-rendering="geometricPrecision" textLength="4.90" lengthAdjust="spacingAndGlyphs" >4</text>
<text x="555.74" y="238.80" font-size="13.3" text-anchor="start" font-family="Liberation Serif, serif" text-rendering="geometricPrecision" textLength="13.40" lengthAdjust="spacingAndGlyphs" >10</text><text x="570.14" y="233.20" font-size="8.7" text-anchor="start" font-family="Liberation Serif, serif" text-rendering="geometricPrecision" textLength="4.90" lengthAdjust="spacingAndGlyphs" >5</text>
<text x="592.48" y="238.80" font-size="13.3" text-anchor="start" font-family="Liberation Serif, serif" text-rendering="geometricPrecision" textLength="13.40" lengthAdjust="spacingAndGlyphs" >10</text><text x="606.88" y="233.20" font-size="8.7" text-anchor="start" font-family="Liberation Serif, serif" text-rendering="geometricPrecision" textLength="4.90" lengthAdjust="spacingAndGlyphs" >6</text>
<text x="629.21" y="238.80" font-size="13.3" text-anchor="start" font-family="Liberation Serif, serif" text-rendering="geometricPrecision" textLength="13.40" lengthAdjust="spacingAndGlyphs" >10</text><text x="643.61" y="233.20" font-size="8.7" text-anchor="start" font-family="Liberation Serif, serif" text-rendering="geometricPrecision" textLength="4.90" lengthAdjust="spacingAndGlyphs" >7</text>
<text x="665.94" y="238.80" font-size="13.3" text-anchor="start" font-family="Liberation Serif, serif" text-rendering="geometricPrecision" textLength="13.40" lengthAdjust="spacingAndGlyphs" >10</text><text x="680.34" y="233.20" font-size="8.7" text-anchor="start" font-family="Liberation Serif, serif" text-rendering="geometricPrecision" textLength="4.90" lengthAdjust="spacingAndGlyphs" >8</text>
<text x="381.40" y="198.40" font-size="13.3" text-anchor="start" font-family="Liberation Serif, serif" text-rendering="geometricPrecision" textLength="13.40" lengthAdjust="spacingAndGlyphs" >10</text><text x="395.80" y="192.80" font-size="8.7" text-anchor="start" font-family="Liberation Serif, serif" text-rendering="geometricPrecision" textLength="4.90" lengthAdjust="spacingAndGlyphs" >0</text>
<text x="381.40" y="133.70" font-size="13.3" text-anchor="start" font-family="Liberation Serif, serif" text-rendering="geometricPrecision" textLength="13.40" lengthAdjust="spacingAndGlyphs" >10</text><text x="395.80" y="128.10" font-size="8.7" text-anchor="start" font-family="Liberation Serif, serif" text-rendering="geometricPrecision" textLength="4.90" lengthAdjust="spacingAndGlyphs" >1</text>
<text x="381.40" y="69.00" font-size="13.3" text-anchor="start" font-family="Liberation Serif, serif" text-rendering="geometricPrecision" textLength="13.40" lengthAdjust="spacingAndGlyphs" >10</text><text x="395.80" y="63.40" font-size="8.7" text-anchor="start" font-family="Liberation Serif, serif" text-rendering="geometricPrecision" textLength="4.90" lengthAdjust="spacingAndGlyphs" >2</text>
<text x="499.40" y="256.50" font-size="12.8" text-anchor="start" font-family="Liberation Serif, serif" text-rendering="geometricPrecision" textLength="97.00" lengthAdjust="spacingAndGlyphs" >Number of cells</text>
<g transform="translate(357.40 169.60) rotate(-90)"><text x="0.00" y="0.00" font-size="13.0" text-anchor="start" font-family="Liberation Serif, serif" text-rendering="geometricPrecision" textLength="28.80" lengthAdjust="spacingAndGlyphs" >Peak</text></g>
<g transform="translate(357.40 136.60) rotate(-90)"><text x="0.00" y="0.00" font-size="13.0" text-anchor="start" font-family="Liberation Serif, serif" text-rendering="geometricPrecision" textLength="31.60" lengthAdjust="spacingAndGlyphs" >GPU</text></g>
<g transform="translate(370.90 199.70) rotate(-90)"><text x="0.00" y="0.00" font-size="13.0" text-anchor="start" font-family="Liberation Serif, serif" text-rendering="geometricPrecision" textLength="48.70" lengthAdjust="spacingAndGlyphs" >memory</text></g>
<g transform="translate(370.90 145.20) rotate(-90)"><text x="0.00" y="0.00" font-size="13.0" text-anchor="start" font-family="Liberation Serif, serif" text-rendering="geometricPrecision" textLength="33.60" lengthAdjust="spacingAndGlyphs" >usage</text></g>
<g transform="translate(370.90 106.40) rotate(-90)"><text x="0.00" y="0.00" font-size="14.4" text-anchor="start" font-family="Liberation Serif, serif" text-rendering="geometricPrecision" textLength="4.40" lengthAdjust="spacingAndGlyphs" >(</text></g>
<g transform="translate(370.90 99.80) rotate(-90)"><text x="0.00" y="0.00" font-size="13.0" text-anchor="start" font-family="Liberation Serif, serif" text-rendering="geometricPrecision" textLength="19.40" lengthAdjust="spacingAndGlyphs" >GB</text></g>
<g transform="translate(370.90 80.00) rotate(-90)"><text x="0.00" y="0.00" font-size="14.4" text-anchor="start" font-family="Liberation Serif, serif" text-rendering="geometricPrecision" textLength="4.40" lengthAdjust="spacingAndGlyphs" >)</text></g>
<rect x="197.6" y="1.0" width="318.6" height="44.6" rx="2.6" ry="2.6" fill="#fff" fill-opacity="0.8" stroke="#cccccc" stroke-width="1.1"/>
<line x1="201.3" y1="13.0" x2="228.3" y2="13.0" stroke="#1f77b4" stroke-width="2.0"/><circle cx="214.80" cy="13.00" r="3.05" fill="#1f77b4" stroke="#1f77b4" stroke-width="1.3"/><text x="236.70" y="17.70" font-size="13.0" text-anchor="start" font-family="Liberation Serif, serif" text-rendering="geometricPrecision" textLength="43.90" lengthAdjust="spacingAndGlyphs" >mumax</text><text x="282.20" y="12.90" font-size="9.3" text-anchor="start" font-family="Liberation Serif, serif" text-rendering="geometricPrecision" textLength="5.30" lengthAdjust="spacingAndGlyphs" >3</text><text x="294.20" y="17.70" font-size="14.4" text-anchor="start" font-family="Liberation Serif, serif" text-rendering="geometricPrecision" textLength="4.40" lengthAdjust="spacingAndGlyphs" >(</text><text x="299.40" y="17.70" font-size="13.0" text-anchor="start" font-family="Liberation Serif, serif" text-rendering="geometricPrecision" textLength="36.50" lengthAdjust="spacingAndGlyphs" >32-bit</text><text x="336.50" y="17.70" font-size="14.4" text-anchor="start" font-family="Liberation Serif, serif" text-rendering="geometricPrecision" textLength="4.40" lengthAdjust="spacingAndGlyphs" >)</text>
<line x1="201.3" y1="33.7" x2="228.3" y2="33.7" stroke="#ff7f0e" stroke-width="2.0"/><path d="M214.80 30.65L211.75 36.75L217.85 36.75Z" fill="#ff7f0e" stroke="#ff7f0e" stroke-width="1.3" stroke-linejoin="miter"/><text x="236.70" y="38.10" font-size="13.0" text-anchor="start" font-family="Liberation Serif, serif" text-rendering="geometricPrecision" textLength="43.90" lengthAdjust="spacingAndGlyphs" >mumax</text><path d="M282.20 30.50H289.20M285.70 27.00V34.00" stroke="#000" stroke-width="0.85" fill="none"/><text x="297.20" y="38.10" font-size="14.4" text-anchor="start" font-family="Liberation Serif, serif" text-rendering="geometricPrecision" textLength="4.40" lengthAdjust="spacingAndGlyphs" >(</text><text x="302.40" y="38.10" font-size="13.0" text-anchor="start" font-family="Liberation Serif, serif" text-rendering="geometricPrecision" textLength="36.50" lengthAdjust="spacingAndGlyphs" >32-bit</text><text x="339.50" y="38.10" font-size="14.4" text-anchor="start" font-family="Liberation Serif, serif" text-rendering="geometricPrecision" textLength="4.40" lengthAdjust="spacingAndGlyphs" >)</text>
<line x1="368.0" y1="13.0" x2="395.0" y2="13.0" stroke="#2ca02c" stroke-width="2.0"/><path d="M379.05 10.55L383.95 15.45M379.05 15.45L383.95 10.55" fill="none" stroke="#2ca02c" stroke-width="2.0" stroke-linecap="butt"/><text x="403.50" y="17.70" font-size="13.0" text-anchor="start" font-family="Liberation Serif, serif" text-rendering="geometricPrecision" textLength="43.90" lengthAdjust="spacingAndGlyphs" >mumax</text><path d="M449.00 10.10H456.00M452.50 6.60V13.60" stroke="#000" stroke-width="0.85" fill="none"/><text x="464.00" y="17.70" font-size="14.4" text-anchor="start" font-family="Liberation Serif, serif" text-rendering="geometricPrecision" textLength="4.40" lengthAdjust="spacingAndGlyphs" >(</text><text x="469.20" y="17.70" font-size="13.0" text-anchor="start" font-family="Liberation Serif, serif" text-rendering="geometricPrecision" textLength="36.50" lengthAdjust="spacingAndGlyphs" >64-bit</text><text x="506.30" y="17.70" font-size="14.4" text-anchor="start" font-family="Liberation Serif, serif" text-rendering="geometricPrecision" textLength="4.40" lengthAdjust="spacingAndGlyphs" >)</text>
<line x1="368.0" y1="33.7" x2="395.0" y2="33.7" stroke="#d62728" stroke-width="2.0"/><path d="M381.50 36.75L378.45 30.65L384.55 30.65Z" fill="#d62728" stroke="#d62728" stroke-width="1.3" stroke-linejoin="miter"/><text x="403.50" y="38.10" font-size="13.0" text-anchor="start" font-family="Liberation Serif, serif" text-rendering="geometricPrecision" textLength="43.90" lengthAdjust="spacingAndGlyphs" >mumax</text><path d="M449.00 30.50H456.00M452.50 27.00V34.00" stroke="#000" stroke-width="0.85" fill="none"/><text x="464.00" y="38.10" font-size="14.4" text-anchor="start" font-family="Liberation Serif, serif" text-rendering="geometricPrecision" textLength="4.40" lengthAdjust="spacingAndGlyphs" >(</text><text x="469.50" y="38.10" font-size="13.0" text-anchor="start" font-family="Liberation Serif, serif" text-rendering="geometricPrecision" textLength="31.70" lengthAdjust="spacingAndGlyphs" >AFM</text><text x="501.80" y="38.10" font-size="14.4" text-anchor="start" font-family="Liberation Serif, serif" text-rendering="geometricPrecision" textLength="4.40" lengthAdjust="spacingAndGlyphs" >)</text>
</svg>
</body></html>
